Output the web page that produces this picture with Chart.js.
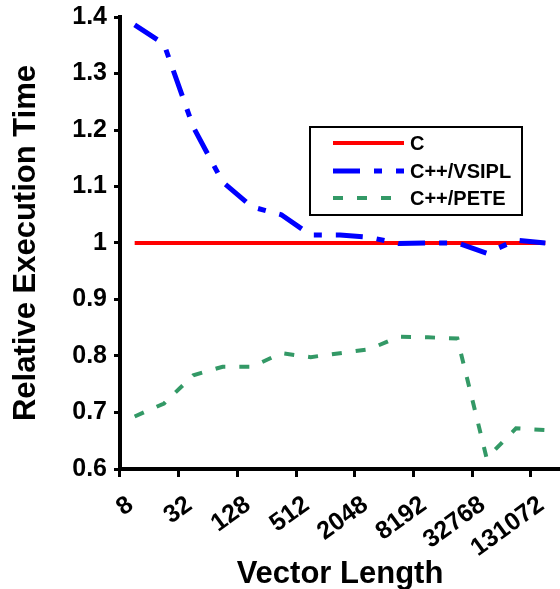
<!DOCTYPE html>
<html>
<head>
<meta charset="utf-8">
<script src="https://cdn.jsdelivr.net/npm/chart.js@4.4.1/dist/chart.umd.min.js"></script>
<style>
  html, body { margin: 0; padding: 0; background: #fff; overflow: hidden; }
  canvas { display: block; }
</style>
</head>
<body>
<canvas id="myChart" width="560" height="589"></canvas>
<script>
// Datos
const vectorLengths = ['8', '16', '32', '64', '128', '256', '512', '1024', '2048', '4096', '8192', '16384', '32768', '65536', '131072'];
const valoresC = [1, 1, 1, 1, 1, 1, 1, 1, 1, 1, 1, 1, 1, 1, 1];
const valoresVsipl = [1.386, 1.352, 1.205, 1.108, 1.064, 1.05, 1.014, 1.014, 1.01, 0.999, 1.0, 1.0, 0.982, 1.005, 1.0];
const valoresPete = [0.693, 0.716, 0.766, 0.781, 0.781, 0.805, 0.798, 0.805, 0.812, 0.834, 0.833, 0.831, 0.619, 0.672, 0.669];
const yTicks = [0.6, 0.7, 0.8, 0.9, 1.0, 1.1, 1.2, 1.3, 1.4];

const fuente = "'Liberation Sans', Arial, sans-serif";

// Leyenda con recuadro dentro del area del grafico
const leyendaCaja = {
    id: 'leyendaCaja',
    afterDraw(chart) {
        const ctx = chart.ctx;
        ctx.save();
        ctx.fillStyle = '#fff';
        ctx.fillRect(310, 127, 212, 88);
        ctx.lineWidth = 2;
        ctx.strokeStyle = '#000';
        ctx.strokeRect(310, 127, 212, 88);

        const filas = [143, 171, 198];
        chart.data.datasets.forEach((ds, i) => {
            const y = filas[i];
            ctx.beginPath();
            ctx.setLineDash(ds.borderDash || []);
            ctx.lineWidth = ds.borderWidth;
            ctx.strokeStyle = ds.borderColor;
            ctx.lineCap = 'butt';
            ctx.moveTo(333, y);
            ctx.lineTo(404, y);
            ctx.stroke();
            ctx.setLineDash([]);
            ctx.fillStyle = '#000';
            ctx.font = 'bold 20px ' + fuente;
            ctx.textBaseline = 'middle';
            ctx.textAlign = 'left';
            ctx.fillText(ds.label, 410, y + 1);
        });
        ctx.restore();
    }
};

const ctx = document.getElementById('myChart').getContext('2d');
new Chart(ctx, {
    type: 'line',
    data: {
        labels: vectorLengths,
        datasets: [{
            label: 'C',
            data: valoresC,
            borderColor: '#ff0000',
            borderWidth: 4,
            order: 2
        }, {
            label: 'C++/VSIPL',
            data: valoresVsipl,
            borderColor: '#0000ff',
            borderWidth: 5,
            borderDash: [27, 14, 8, 14],
            order: 1
        }, {
            label: 'C++/PETE',
            data: valoresPete,
            borderColor: '#339966',
            borderWidth: 4,
            borderDash: [10, 14],
            order: 0
        }]
    },
    options: {
        responsive: false,
        animation: false,
        devicePixelRatio: 1,
        layout: { padding: { top: 17, left: 0, right: 0, bottom: 0 } },
        elements: {
            point: { radius: 0 },
            line: { tension: 0, fill: false, borderCapStyle: 'butt' }
        },
        plugins: {
            legend: { display: false },
            tooltip: { enabled: false }
        },
        scales: {
            x: {
                offset: true,
                grid: {
                    offset: true,
                    drawOnChartArea: false,
                    tickLength: 8,
                    tickWidth: 3,
                    tickColor: (c) => (c.index % 2 === 0 ? '#000' : 'rgba(0,0,0,0)')
                },
                border: { color: '#000', width: 4 },
                ticks: {
                    autoSkip: false,
                    minRotation: 36,
                    maxRotation: 36,
                    padding: 13,
                    labelOffset: -4,
                    color: '#000',
                    font: { family: fuente, size: 25, weight: 'bold' },
                    callback: function(value, index) {
                        return index % 2 === 0 ? this.getLabelForValue(value) : '';
                    }
                },
                title: {
                    display: true,
                    text: 'Vector Length',
                    color: '#000',
                    font: { family: fuente, size: 31, weight: 'bold' },
                    padding: { top: 0, bottom: -4 }
                },
                afterFit: (scale) => {
                    scale.height = 120;
                    scale.paddingLeft = 0;
                    scale.paddingRight = 0;
                }
            },
            y: {
                min: yTicks[0],
                max: yTicks[yTicks.length - 1],
                afterBuildTicks: (scale) => {
                    scale.ticks = yTicks.map(v => ({ value: v }));
                },
                grid: {
                    drawOnChartArea: false,
                    tickLength: 6,
                    tickWidth: 3,
                    tickColor: '#000'
                },
                border: { color: '#000', width: 4 },
                ticks: {
                    padding: 7,
                    color: '#000',
                    font: { family: fuente, size: 25, weight: 'bold' },
                    callback: (value) => String(Number(value.toFixed(1)))
                },
                title: {
                    display: true,
                    text: 'Relative Execution Time',
                    color: '#000',
                    font: { family: fuente, size: 31, weight: 'bold' },
                    padding: { top: 8, bottom: 0 }
                },
                afterFit: (scale) => {
                    scale.width = 120;
                    scale.paddingTop = 0;
                    scale.paddingBottom = 0;
                }
            }
        }
    },
    plugins: [leyendaCaja]
});
</script>
</body>
</html>
